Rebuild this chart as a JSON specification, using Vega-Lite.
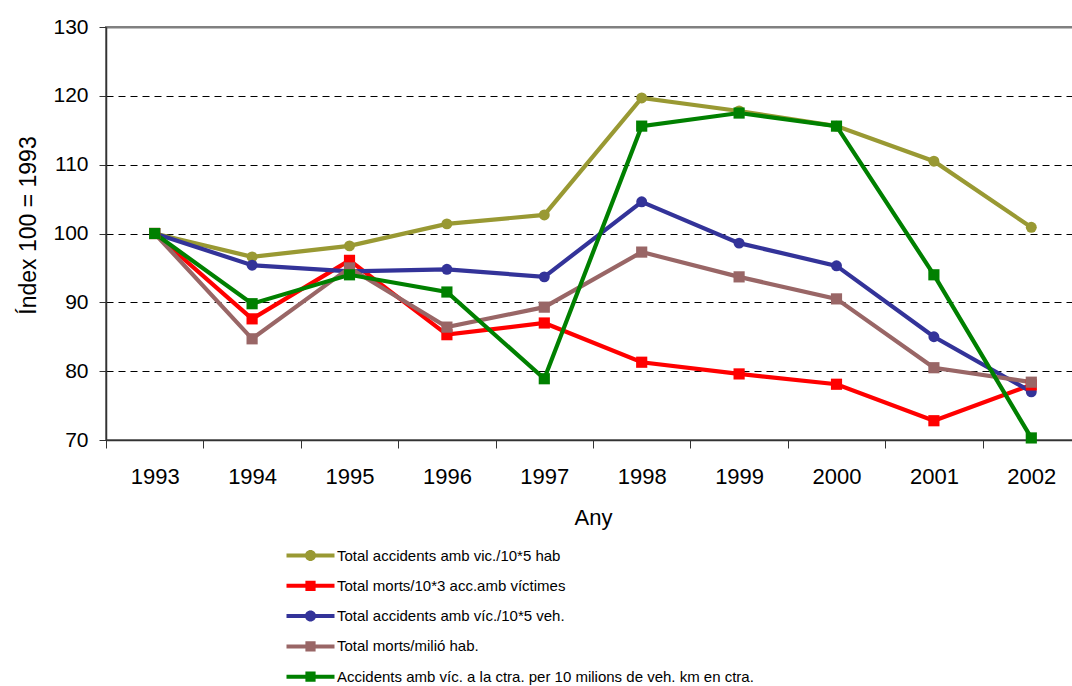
{
  "$schema": "https://vega.github.io/schema/vega-lite/v6.json",
  "width": 974,
  "height": 413,
  "autosize": {"type": "none"},
  "padding": {"left": 106, "top": 27, "right": 0, "bottom": 246},
  "background": "white",
  "config": {
    "font": "Liberation Sans",
    "view": {"stroke": "#808080", "strokeWidth": 2}
  },
  "datasets": {
    "d": [
      {"series": "Total accidents amb vic./10*5 hab", "year": "1993", "value": 100},
      {"series": "Total accidents amb vic./10*5 hab", "year": "1994", "value": 96.6},
      {"series": "Total accidents amb vic./10*5 hab", "year": "1995", "value": 98.2},
      {"series": "Total accidents amb vic./10*5 hab", "year": "1996", "value": 101.4},
      {"series": "Total accidents amb vic./10*5 hab", "year": "1997", "value": 102.7},
      {"series": "Total accidents amb vic./10*5 hab", "year": "1998", "value": 119.7},
      {"series": "Total accidents amb vic./10*5 hab", "year": "1999", "value": 117.8},
      {"series": "Total accidents amb vic./10*5 hab", "year": "2000", "value": 115.6},
      {"series": "Total accidents amb vic./10*5 hab", "year": "2001", "value": 110.5},
      {"series": "Total accidents amb vic./10*5 hab", "year": "2002", "value": 100.9},
      {"series": "Total morts/10*3 acc.amb víctimes", "year": "1993", "value": 100},
      {"series": "Total morts/10*3 acc.amb víctimes", "year": "1994", "value": 87.6},
      {"series": "Total morts/10*3 acc.amb víctimes", "year": "1995", "value": 96.1},
      {"series": "Total morts/10*3 acc.amb víctimes", "year": "1996", "value": 85.3},
      {"series": "Total morts/10*3 acc.amb víctimes", "year": "1997", "value": 87.0},
      {"series": "Total morts/10*3 acc.amb víctimes", "year": "1998", "value": 81.3},
      {"series": "Total morts/10*3 acc.amb víctimes", "year": "1999", "value": 79.6},
      {"series": "Total morts/10*3 acc.amb víctimes", "year": "2000", "value": 78.1},
      {"series": "Total morts/10*3 acc.amb víctimes", "year": "2001", "value": 72.8},
      {"series": "Total morts/10*3 acc.amb víctimes", "year": "2002", "value": 78.0},
      {"series": "Total accidents amb víc./10*5 veh.", "year": "1993", "value": 100},
      {"series": "Total accidents amb víc./10*5 veh.", "year": "1994", "value": 95.4},
      {"series": "Total accidents amb víc./10*5 veh.", "year": "1995", "value": 94.5},
      {"series": "Total accidents amb víc./10*5 veh.", "year": "1996", "value": 94.8},
      {"series": "Total accidents amb víc./10*5 veh.", "year": "1997", "value": 93.7},
      {"series": "Total accidents amb víc./10*5 veh.", "year": "1998", "value": 104.6},
      {"series": "Total accidents amb víc./10*5 veh.", "year": "1999", "value": 98.6},
      {"series": "Total accidents amb víc./10*5 veh.", "year": "2000", "value": 95.3},
      {"series": "Total accidents amb víc./10*5 veh.", "year": "2001", "value": 85.0},
      {"series": "Total accidents amb víc./10*5 veh.", "year": "2002", "value": 77.0},
      {"series": "Total morts/milió hab.", "year": "1993", "value": 100},
      {"series": "Total morts/milió hab.", "year": "1994", "value": 84.7},
      {"series": "Total morts/milió hab.", "year": "1995", "value": 95.0},
      {"series": "Total morts/milió hab.", "year": "1996", "value": 86.4},
      {"series": "Total morts/milió hab.", "year": "1997", "value": 89.3},
      {"series": "Total morts/milió hab.", "year": "1998", "value": 97.3},
      {"series": "Total morts/milió hab.", "year": "1999", "value": 93.7},
      {"series": "Total morts/milió hab.", "year": "2000", "value": 90.5},
      {"series": "Total morts/milió hab.", "year": "2001", "value": 80.5},
      {"series": "Total morts/milió hab.", "year": "2002", "value": 78.4},
      {"series": "Accidents amb víc. a la ctra. per 10 milions de veh. km en ctra.", "year": "1993", "value": 100},
      {"series": "Accidents amb víc. a la ctra. per 10 milions de veh. km en ctra.", "year": "1994", "value": 89.8},
      {"series": "Accidents amb víc. a la ctra. per 10 milions de veh. km en ctra.", "year": "1995", "value": 94.0},
      {"series": "Accidents amb víc. a la ctra. per 10 milions de veh. km en ctra.", "year": "1996", "value": 91.5},
      {"series": "Accidents amb víc. a la ctra. per 10 milions de veh. km en ctra.", "year": "1997", "value": 78.9},
      {"series": "Accidents amb víc. a la ctra. per 10 milions de veh. km en ctra.", "year": "1998", "value": 115.6},
      {"series": "Accidents amb víc. a la ctra. per 10 milions de veh. km en ctra.", "year": "1999", "value": 117.5},
      {"series": "Accidents amb víc. a la ctra. per 10 milions de veh. km en ctra.", "year": "2000", "value": 115.6},
      {"series": "Accidents amb víc. a la ctra. per 10 milions de veh. km en ctra.", "year": "2001", "value": 94.0},
      {"series": "Accidents amb víc. a la ctra. per 10 milions de veh. km en ctra.", "year": "2002", "value": 70.3}
    ]
  },
  "data": {"name": "d"},
  "encoding": {
    "x": {
      "field": "year",
      "type": "ordinal",
      "scale": {"type": "band", "paddingInner": 0, "paddingOuter": 0},
      "axis": {
        "title": "Any",
        "labelAngle": 0,
        "labelFontSize": 22,
        "labelColor": "black",
        "labelPadding": 18,
        "tickBand": "extent",
        "tickSize": 8,
        "tickColor": "#333333",
        "domainColor": "#333333",
        "domainWidth": 1.5,
        "grid": false,
        "titleFontSize": 22,
        "titleFontWeight": "normal",
        "titleColor": "black",
        "titlePadding": 20
      }
    },
    "y": {
      "field": "value",
      "type": "quantitative",
      "scale": {"domain": [70, 130], "nice": false, "zero": false},
      "axis": {
        "title": "Índex 100 = 1993",
        "values": [70, 80, 90, 100, 110, 120, 130],
        "labelFontSize": 21,
        "labelColor": "black",
        "labelPadding": 11,
        "tickSize": 7,
        "tickColor": "#333333",
        "domainColor": "#333333",
        "domainWidth": 1.5,
        "grid": true,
        "gridColor": {"condition": {"test": "datum.value == 130", "value": "#808080"}, "value": "#000000"},
        "gridDash": {"condition": {"test": "datum.value == 130", "value": []}, "value": [7, 5]},
        "gridWidth": {"condition": {"test": "datum.value == 130", "value": 2}, "value": 1},
        "titleFontSize": 23,
        "titleFontWeight": "normal",
        "titleColor": "black",
        "titlePadding": 12,
        "titleY": 198
      }
    },
    "color": {
      "field": "series",
      "type": "nominal",
      "sort": null,
      "scale": {
        "domain": [
          "Total accidents amb vic./10*5 hab",
          "Total morts/10*3 acc.amb víctimes",
          "Total accidents amb víc./10*5 veh.",
          "Total morts/milió hab.",
          "Accidents amb víc. a la ctra. per 10 milions de veh. km en ctra."
        ],
        "range": ["#999933", "#ff0000", "#333399", "#996666", "#008000"]
      },
      "legend": {
        "title": null,
        "orient": "none",
        "legendX": 197,
        "legendY": 521,
        "direction": "vertical",
        "padding": 0,
        "labelFontSize": 15,
        "labelColor": "black",
        "labelOffset": 19,
        "labelLimit": 700,
        "rowPadding": 14.3,
        "symbolSize": 144,
        "symbolStrokeWidth": 0,
        "symbolOpacity": 1,
        "symbolType": {"expr": "(datum.value == 'Total accidents amb vic./10*5 hab' || datum.value == 'Total accidents amb víc./10*5 veh.') ? 'M-4,-0.33H4V0.33H-4Z M0.92,0A0.92,0.92 0 1 1 -0.92,0A0.92,0.92 0 1 1 0.92,0Z' : 'M-4,-0.33H4V0.33H-4Z M-0.85,-0.85H0.85V0.85H-0.85Z'"}
      }
    }
  },
  "layer": [
    {"mark": {"type": "line", "strokeWidth": 4.2}},
    {
      "transform": [{"filter": "datum.series == 'Total accidents amb vic./10*5 hab' || datum.series == 'Total accidents amb víc./10*5 veh.'"}],
      "mark": {"type": "point", "shape": "circle", "filled": true, "opacity": 1, "size": 120}
    },
    {
      "transform": [{"filter": "datum.series != 'Total accidents amb vic./10*5 hab' && datum.series != 'Total accidents amb víc./10*5 veh.'"}],
      "mark": {"type": "point", "shape": "square", "filled": true, "opacity": 1, "size": 125}
    }
  ]
}
